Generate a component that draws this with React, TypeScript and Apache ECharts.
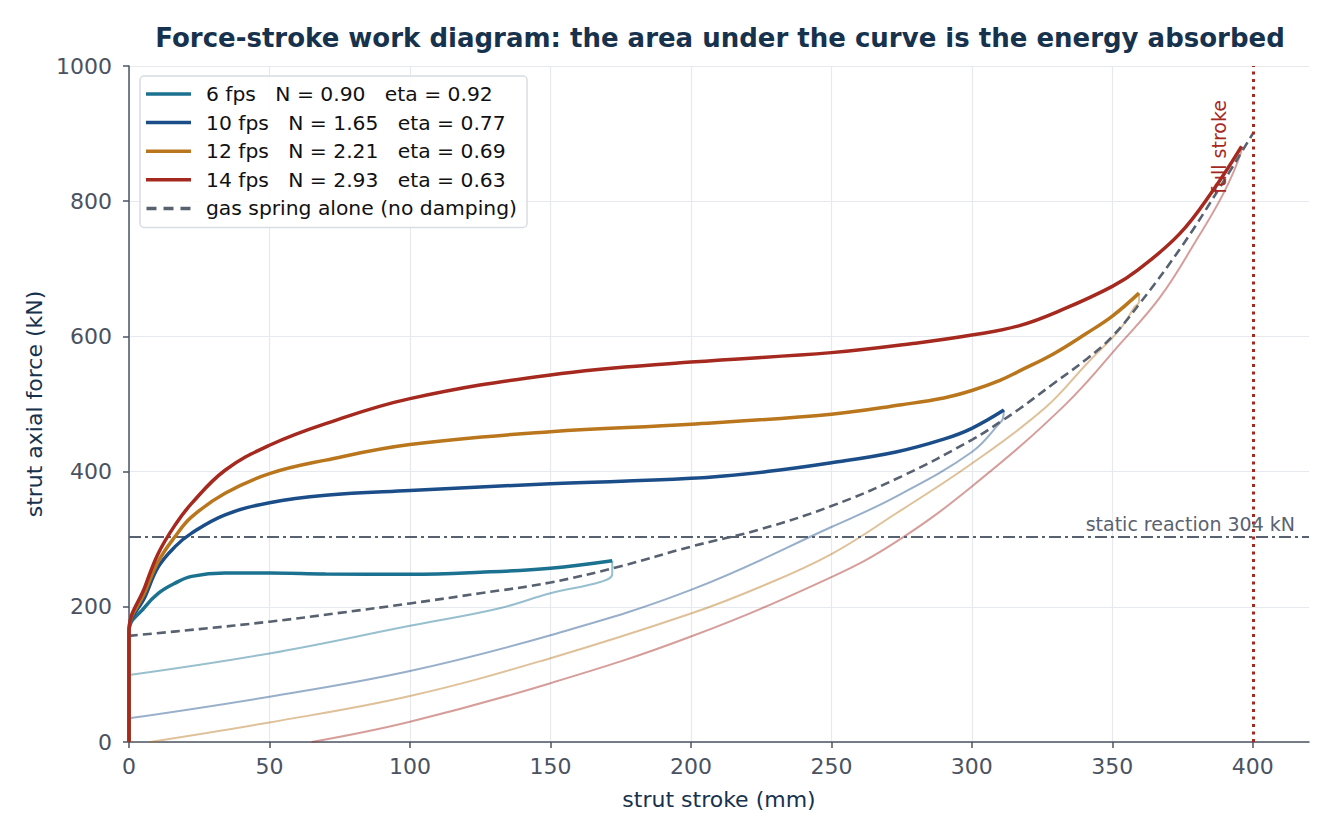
import React, { useEffect, useRef } from "react";
import * as echarts from "echarts";

const TITLE = "Force-stroke work diagram: the area under the curve is the energy absorbed";
const X_NAME = "strut stroke (mm)";
const Y_NAME = "strut axial force (kN)";
const xTickValues = [0, 50, 100, 150, 200, 250, 300, 350, 400];
const STATIC_REACTION = 304;
const FULL_STROKE = 400;

const legendNames = [
  "6 fps   N = 0.90   eta = 0.92",
  "10 fps   N = 1.65   eta = 0.77",
  "12 fps   N = 2.21   eta = 0.69",
  "14 fps   N = 2.93   eta = 0.63",
  "gas spring alone (no damping)",
];

const gasSpring = [
  [0, 157], [25, 167], [50, 178], [75, 191], [100, 205], [125, 220], [150, 236],
  [175, 260], [200, 289], [225, 315], [250, 349], [275, 393], [300, 447], [311, 476],
  [317, 493], [329, 530], [341, 567], [350, 600], [360, 650], [375, 735], [387, 812],
  [400, 900],
];

const comp6 = [
  [0, 0], [0, 165], [5.7, 200], [10.4, 220], [16.4, 235], [22.3, 245], [34.2, 250],
  [50, 250], [70, 248.5], [100, 248], [125, 251], [150, 257], [172, 268],
];
const reb6 = [
  [172, 268], [172, 248], [168, 237], [150, 220], [132, 198], [100, 172],
  [50, 131], [0, 99],
];

const comp10 = [
  [0, 0], [0, 165], [5.7, 215], [10.4, 259], [16.4, 289], [22.3, 309], [34.2, 336],
  [50, 354], [70, 365], [100, 372], [150, 382], [200, 390], [227, 400], [250, 413],
  [273, 429], [290, 448], [300, 464], [311.4, 491],
];
const reb10 = [
  [311.4, 491], [311, 478], [310, 472], [300, 429], [273, 363], [250, 318], [200, 225],
  [150, 158], [100, 105], [50, 67], [0, 35],
];

const comp12 = [
  [0, 0], [0, 165], [5.7, 222], [10.4, 267], [16.4, 304], [22.3, 333], [34.2, 368],
  [50, 397], [70, 417], [100, 440], [150, 459], [200, 470], [250, 485], [275, 499],
  [290, 509], [300, 520], [310, 535], [317, 549], [329, 574], [341, 605], [350, 630],
  [359.5, 664],
];
const reb12 = [
  [359.5, 664], [359.5, 651], [358, 644], [353, 612], [341, 560], [326, 494], [300, 412],
  [273, 338], [250, 278], [225, 230], [200, 190], [150, 124], [100, 68], [50, 29], [7.5, 0],
];

const comp14 = [
  [0, 0], [0, 165], [5.7, 230], [10.4, 279], [16.4, 321], [22.3, 353], [34.2, 402],
  [50, 439], [70, 471], [100, 508], [150, 543], [200, 562], [250, 576], [280, 590],
  [300, 602], [317, 616], [333, 641], [350, 674], [359, 698], [374, 752], [386, 817],
  [396, 881],
];
const reb14 = [
  [396, 881], [395.7, 871], [389.6, 812], [380, 743], [367, 658], [353, 590],
  [333, 498], [300, 378], [273, 296], [250, 244], [200, 156], [150, 87], [100, 30], [65, 0],
];

const COLORS = ["#1b7190", "#1b4d89", "#b9761c", "#a5291f"];
const GAS_COLOR = "#586170";
const FONT = "DejaVu Sans";
const SOLID_ICON = "path://M0,0h45v3.5h-45z";
const DASH_ICON = "path://M0,0h10v3.5h-10z M17,0h10v3.5h-10z M34,0h10v3.5h-10z";

export default function App() {
  const ref = useRef<HTMLDivElement>(null);

  useEffect(() => {
    if (!ref.current) return;
    const chart = echarts.init(ref.current, undefined, { renderer: "svg" });
    const comps = [comp6, comp10, comp12, comp14];
    const rebs = [reb6, reb10, reb12, reb14];

    const series: any[] = [];
    rebs.forEach((d, i) => {
      series.push({
        name: "rebound-" + i,
        type: "line",
        data: d,
        showSymbol: false,
        symbol: "none",
        smooth: 0.4,
        lineStyle: { color: COLORS[i], width: 2, opacity: 0.45 },
        itemStyle: { color: COLORS[i] },
        z: 2,
      });
    });
    series.push({
      name: legendNames[4],
      type: "line",
      data: gasSpring,
      symbol: "none",
      smooth: 0.4,
      lineStyle: { color: GAS_COLOR, width: 2.6, type: [9, 5] },
      itemStyle: { color: GAS_COLOR },
      z: 4,
      markLine: {
        silent: true,
        symbol: ["none", "none"],
        animation: false,
        data: [
          {
            yAxis: STATIC_REACTION,
            lineStyle: { color: GAS_COLOR, width: 1.8, type: [12, 4, 3, 4] },
            label: {
              show: true,
              position: "insideEndTop",
              formatter: "static reaction " + STATIC_REACTION + " kN",
              color: "#5a6270",
              fontSize: 19,
              fontFamily: FONT,
              distance: [14, 3],
            },
          },
          {
            xAxis: FULL_STROKE,
            lineStyle: { color: "#a5291f", width: 3, type: [3, 4.5] },
            label: {
              show: true,
              position: "insideEndTop",
              formatter: "full stroke",
              color: "#a5291f",
              fontSize: 19,
              fontFamily: FONT,
              distance: [34, 24],
            },
          },
        ],
      },
    });
    comps.forEach((d, i) => {
      series.push({
        name: legendNames[i],
        type: "line",
        data: d,
        symbol: "none",
        smooth: 0.4,
        lineStyle: { color: COLORS[i], width: 3.5 },
        itemStyle: { color: COLORS[i] },
        z: 5 + i,
      });
    });

    chart.setOption({
      animation: false,
      backgroundColor: "#ffffff",
      title: {
        text: TITLE,
        left: 715,
        textAlign: "center",
        top: 20,
        textStyle: { fontFamily: FONT, fontSize: 26, fontWeight: "bold", color: "#17324d" },
      },
      legend: {
        data: legendNames.map((n, i) => ({ name: n, icon: i === 4 ? DASH_ICON : SOLID_ICON })),
        orient: "vertical",
        left: 140,
        top: 76,
        padding: [8, 10, 9, 6],
        itemWidth: 45,
        itemHeight: 3.5,
        itemGap: 8.6,
        backgroundColor: "rgba(255,255,255,0.85)",
        borderColor: "#d8dde3",
        borderWidth: 1.5,
        borderRadius: 4,
        textStyle: { fontFamily: FONT, fontSize: 20.3, color: "#111111", padding: [0, 0, 0, 10] },
      },
      grid: { left: 129, right: 24, top: 66, bottom: 95, containLabel: false },
      xAxis: {
        type: "value",
        min: 0,
        max: 420,
        interval: 50,
        name: X_NAME,
        nameLocation: "middle",
        nameGap: 46,
        nameTextStyle: { fontFamily: FONT, fontSize: 22, color: "#17324d" },
        axisLine: { show: true, lineStyle: { color: "#4d5562", width: 1.5 } },
        axisTick: { show: true, length: 6, lineStyle: { color: "#4d5562", width: 1.5 }, customValues: xTickValues },
        axisLabel: {
          fontFamily: FONT,
          fontSize: 22,
          color: "#4a5261",
          margin: 13,
          customValues: xTickValues,
          formatter: (v: number) => (v > 400 ? "" : String(v)),
        },
        splitLine: { show: true, showMaxLine: false, lineStyle: { color: "#e6eaef", width: 1.2 } },
      },
      yAxis: {
        type: "value",
        min: 0,
        max: 1000,
        interval: 200,
        name: Y_NAME,
        nameLocation: "middle",
        nameGap: 82,
        nameTextStyle: { fontFamily: FONT, fontSize: 22, color: "#17324d" },
        axisLine: { show: true, lineStyle: { color: "#4d5562", width: 1.5 } },
        axisTick: { show: true, length: 6, lineStyle: { color: "#4d5562", width: 1.5 } },
        axisLabel: {
          fontFamily: FONT,
          fontSize: 22,
          color: "#4a5261",
          margin: 17,
          formatter: (v: number) => String(v),
        },
        splitLine: { show: true, lineStyle: { color: "#e6eaef", width: 1.2 } },
      },
      series,
    });
    return () => chart.dispose();
  }, []);

  return (
    <div
      ref={ref}
      style={{ position: "fixed", left: 0, top: 0, width: 1333, height: 837, background: "#fff" }}
    />
  );
}
